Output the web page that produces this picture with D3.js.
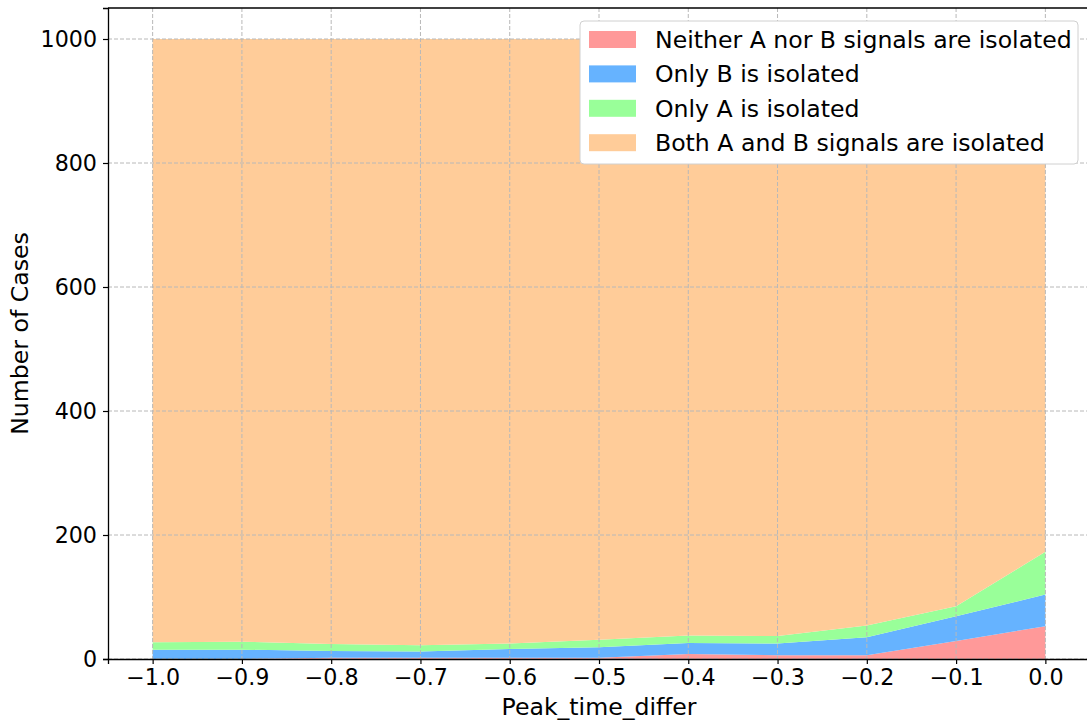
<!DOCTYPE html>
<html>
<head>
<meta charset="utf-8">
<script src="https://cdn.jsdelivr.net/npm/d3@7"></script>
<style>
  body { margin: 0; background: #fff; }
  svg { display: block; font-family: "DejaVu Sans", sans-serif; }
</style>
</head>
<body>
<svg id="chart" width="1087" height="720"></svg>
<script>
// Peak time difference values (x axis)
const peakTimes = [-1.0, -0.9, -0.8, -0.7, -0.6, -0.5, -0.4, -0.3, -0.2, -0.1, 0.0];

// Case counts per outcome at each peak time difference (1000 cases total)
const neitherIsolated = [0, 0, 2, 2, 2, 2, 8, 6, 6, 29, 53];
const onlyBIsolated   = [15, 15, 11, 10, 14, 17, 18, 19, 29, 40, 51];
const onlyAIsolated   = [12, 13, 11, 10, 9, 12, 12, 12, 19, 16, 69];
const bothIsolated    = peakTimes.map((_, i) => 1000 - neitherIsolated[i] - onlyBIsolated[i] - onlyAIsolated[i]);

const seriesNames = [
  "Neither A nor B signals are isolated",
  "Only B is isolated",
  "Only A is isolated",
  "Both A and B signals are isolated"
];
const seriesColors = ["#ff9999", "#66b3ff", "#99ff99", "#ffcc99"];

const xTicks = [-1.0, -0.9, -0.8, -0.7, -0.6, -0.5, -0.4, -0.3, -0.2, -0.1, 0.0];
const yTicks = [0, 200, 400, 600, 800, 1000];

const rows = peakTimes.map((t, i) => ({
  t,
  s0: neitherIsolated[i],
  s1: onlyBIsolated[i],
  s2: onlyAIsolated[i],
  s3: bothIsolated[i]
}));

const svg = d3.select("#chart");
const margin = { left: 108, right: 1090, top: 8, bottom: 659 };
const tickFont = 22.2;
const labelFont = 23.6;

const x = d3.scaleLinear().domain([-1.05, 0.05]).range([margin.left, margin.right]);
const y = d3.scaleLinear().domain([0, 1050]).range([margin.bottom, margin.top]);

const stack = d3.stack().keys(["s0", "s1", "s2", "s3"]);
const layers = stack(rows);

const area = d3.area()
  .x(d => x(d.data.t))
  .y0(d => y(d[0]))
  .y1(d => y(d[1]));

svg.append("g")
  .selectAll("path")
  .data(layers)
  .join("path")
  .attr("d", area)
  .attr("fill", (d, i) => seriesColors[i]);

// Dashed grid on top of the areas
const grid = svg.append("g").attr("stroke", "#b8b8b8").attr("stroke-width", 1)
  .attr("stroke-dasharray", "4,2");
grid.selectAll("line.vx").data(xTicks).join("line")
  .attr("x1", d => x(d)).attr("x2", d => x(d))
  .attr("y1", margin.top).attr("y2", margin.bottom);
grid.selectAll("line.hy").data(yTicks).join("line")
  .attr("x1", margin.left).attr("x2", margin.right)
  .attr("y1", d => y(d)).attr("y2", d => y(d));

const fmtX = d => d3.format(".1f")(d).replace("-", "\u2212");

const xAxis = d3.axisBottom(x).tickValues(xTicks).tickFormat(fmtX).tickSizeOuter(0).tickSize(5).tickPadding(5);
const yAxis = d3.axisLeft(y).tickValues(yTicks).tickFormat(d3.format("d")).tickSizeOuter(0).tickSize(5).tickPadding(6);

const gx = svg.append("g").attr("transform", `translate(0,${margin.bottom})`).call(xAxis);
const gy = svg.append("g").attr("transform", `translate(${margin.left},0)`).call(yAxis);
[gx, gy].forEach(g => {
  g.selectAll("text").attr("font-size", tickFont).attr("fill", "#000").attr("font-family", "DejaVu Sans");
  g.selectAll("line").attr("stroke", "#000").attr("stroke-width", 1.2);
  g.select(".domain").attr("stroke", "#000").attr("stroke-width", 1.3);
});

// Top and right spines
svg.append("line")
  .attr("x1", margin.left).attr("x2", margin.right)
  .attr("y1", margin.top).attr("y2", margin.top)
  .attr("stroke", "#000").attr("stroke-width", 1.3);
svg.append("line")
  .attr("x1", margin.right).attr("x2", margin.right)
  .attr("y1", margin.top).attr("y2", margin.bottom)
  .attr("stroke", "#000").attr("stroke-width", 1.3);

// Axis titles
svg.append("text")
  .attr("x", (margin.left + margin.right) / 2)
  .attr("y", 715)
  .attr("text-anchor", "middle")
  .attr("font-size", labelFont)
  .text("Peak_time_differ");

svg.append("text")
  .attr("transform", `translate(28,${(margin.top + margin.bottom) / 2}) rotate(-90)`)
  .attr("text-anchor", "middle")
  .attr("font-size", labelFont)
  .text("Number of Cases");

// Legend
const legend = svg.append("g").attr("transform", "translate(580,21)");
legend.append("rect")
  .attr("width", 498).attr("height", 143)
  .attr("rx", 4).attr("ry", 4)
  .attr("fill", "#fff")
  .attr("stroke", "#d0d0d0").attr("stroke-width", 1);
const items = legend.selectAll("g.item").data(seriesNames).join("g")
  .attr("transform", (d, i) => `translate(9,${18.5 + i * 34.4})`);
items.append("rect")
  .attr("x", 0).attr("y", -8.5).attr("width", 47).attr("height", 17)
  .attr("fill", (d, i) => seriesColors[i]);
items.append("text")
  .attr("x", 66).attr("y", 0).attr("dy", "0.35em")
  .attr("font-size", labelFont)
  .text(d => d);
</script>
</body>
</html>
